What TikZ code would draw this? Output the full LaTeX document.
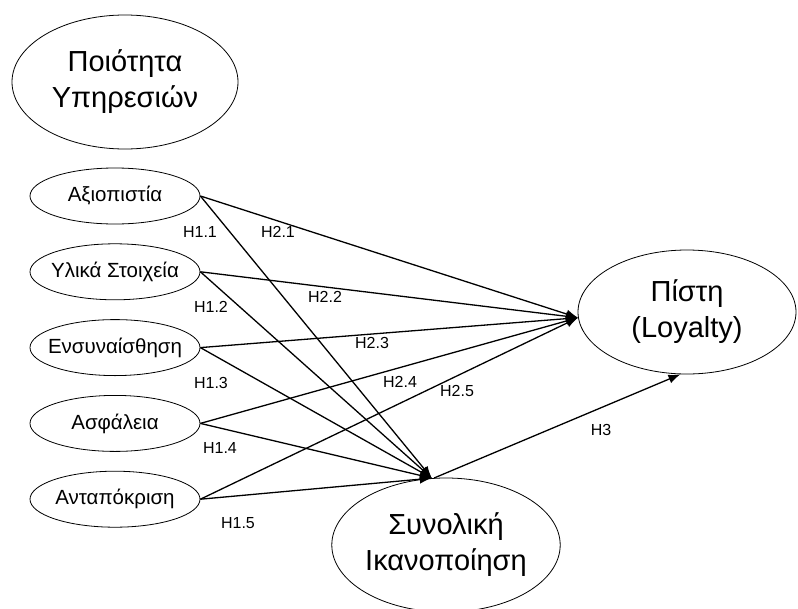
\documentclass[tikz,border=0pt]{standalone}
\usepackage{fontspec}
\setmainfont{Liberation Sans}
\usetikzlibrary{arrows.meta,positioning,shapes.geometric}
\tikzset{
  bigconstruct/.style={ellipse, draw, line width=0.8pt, inner sep=0pt,
    minimum width=226pt, minimum height=134pt, align=center,
    font=\fontsize{29}{36}\selectfont},
  dimbox/.style={ellipse, draw, line width=0.8pt, inner ysep=0pt, inner xsep=-9pt,
    minimum width=170pt, minimum height=56pt, font=\fontsize{20.5}{24}\selectfont},
  hyp/.style={inner sep=0pt, font=\fontsize{16}{18}\selectfont},
  flow/.style={-{Latex[length=12pt, width=9pt]}, line width=1.3pt}
}

\begin{document}
\begin{tikzpicture}[x=1pt, y=-1pt]
\useasboundingbox (0,0) rectangle (798,608);

\node[bigconstruct] (quality) at (125,82) {Ποιότητα\\Υπηρεσιών};

\node[dimbox] (rel) at (115,196) {Αξιοπιστία};
\node[dimbox, below=19pt of rel] (tang) {Υλικά Στοιχεία};
\node[dimbox, below=19pt of tang] (emp) {Ενσυναίσθηση};
\node[dimbox, below=19pt of emp] (assur) {Ασφάλεια};
\node[dimbox, below=19pt of assur] (resp) {Ανταπόκριση};

\node[bigconstruct, minimum width=218pt, minimum height=124pt] (loyal) at (687,312) {Πίστη\\(Loyalty)};
\node[bigconstruct] (satis) at (446,545) {Συνολική\\Ικανοποίηση};

\draw[flow] (rel.east)--(satis.102);
\draw[flow] (tang.east)--(satis.102);
\draw[flow] (emp.east)--(satis.102);
\draw[flow] (assur.east)--(satis.102);
\draw[flow] (resp.east)--(satis.102);

\draw[flow] (rel.east)--(loyal.183);
\draw[flow] (tang.east)--(loyal.183);
\draw[flow] (emp.east)--(loyal.183);
\draw[flow] (assur.east)--(loyal.183);
\draw[flow] (resp.east)--(loyal.183);

\draw[flow] (satis.100)--(loyal.264);

\node[hyp] (h11) at (200,232) {H1.1};
\node[hyp] (h12) at (211,307) {H1.2};
\node[hyp] (h13) at (211,383) {H1.3};
\node[hyp] (h14) at (220,448) {H1.4};
\node[hyp] (h15) at (238,523) {H1.5};
\node[hyp] (h21) at (278,232) {H2.1};
\node[hyp] (h22) at (325,297) {H2.2};
\node[hyp] (h23) at (372,343) {H2.3};
\node[hyp] (h24) at (400,382) {H2.4};
\node[hyp] (h25) at (457,391) {H2.5};
\node[hyp] (h3) at (601,430) {H3};
\end{tikzpicture}
\end{document}
